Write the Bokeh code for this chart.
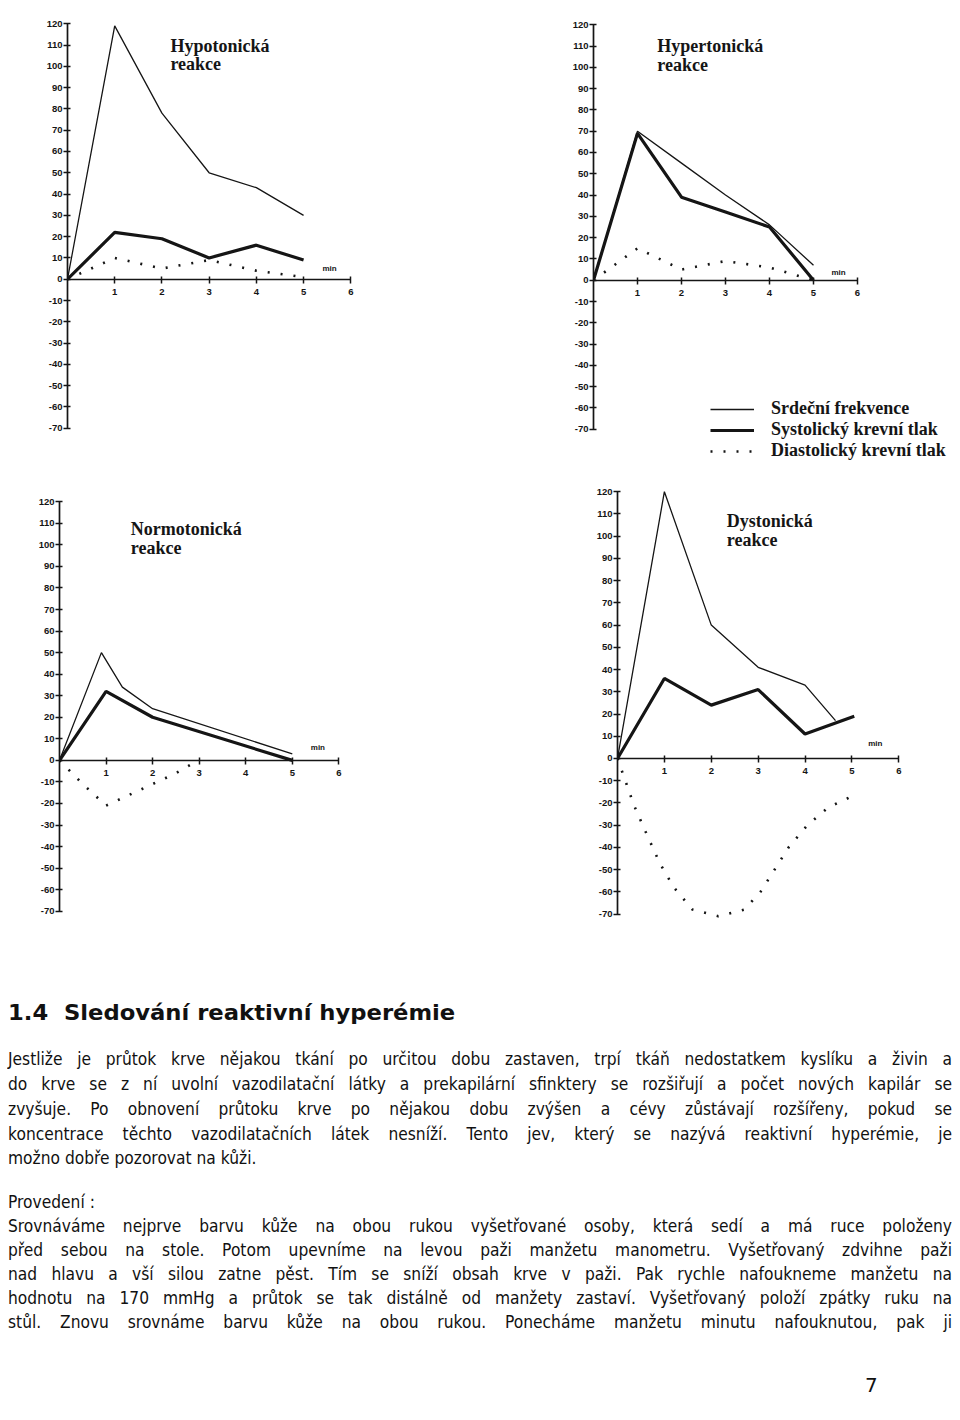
from bokeh.plotting import figure
from bokeh.layouts import row, column
from bokeh.models import FixedTicker, Label, Legend, LegendItem, Div
from bokeh.embed import file_html
from bokeh.resources import INLINE

# ---------------- data (read from the scanned page) ----------------
x_ticks = [1, 2, 3, 4, 5, 6]
y_ticks = list(range(-70, 121, 10))

# Hypotonická reakce
hypo_hr_x = [0, 1, 2, 3, 4, 5]
hypo_hr_y = [0, 119, 78, 50, 43, 30]
hypo_sys_x = [0, 1, 2, 3, 4, 5]
hypo_sys_y = [0, 22, 19, 10, 16, 9]
hypo_dia_x = [0, 1, 2, 3, 4, 5]
hypo_dia_y = [0, 10, 5, 9, 4, 1]

# Hypertonická reakce
hyper_hr_x = [0, 1, 2, 3, 4, 5]
hyper_hr_y = [0, 70, 55, 40, 26, 7]
hyper_sys_x = [0, 1, 2, 3, 4, 5]
hyper_sys_y = [0, 69, 39, 32, 25, 0]
hyper_dia_x = [0, 1, 2, 3, 4, 5]
hyper_dia_y = [0, 15, 5, 9, 6, 0]

# Normotonická reakce
normo_hr_x = [0, 0.9, 1.35, 2, 5]
normo_hr_y = [0, 50, 34, 24, 3]
normo_sys_x = [0, 1, 2, 5]
normo_sys_y = [0, 32, 20, 0]
normo_dia_x = [0, 0.5, 1, 1.5, 2, 2.5, 2.9]
normo_dia_y = [0, -11, -21, -16, -11, -6, -1]

# Dystonická reakce
dys_hr_x = [0, 1, 2, 3, 4, 4.65]
dys_hr_y = [0, 120, 60, 41, 33, 17]
dys_sys_x = [0, 1, 2, 3, 4, 5.05]
dys_sys_y = [0, 36, 24, 31, 11, 19]
dys_dia_x = [0, 0.35, 0.6, 0.9, 1.2, 1.6, 2.15, 2.7, 3.05, 3.35, 3.65, 4.05, 4.5, 5]
dys_dia_y = [0, -21, -33, -47, -58, -68, -71, -68, -60, -50, -40, -30, -22, -17]

legend_labels = ["Srdeční frekvence", "Systolický krevní tlak", "Diastolický krevní tlak"]

heading = "1.4&nbsp; Sledování reaktivní hyperémie"
intro_lines = [
    "Jestliže je průtok krve nějakou tkání po určitou dobu zastaven, trpí tkáň nedostatkem kyslíku a živin a",
    "do krve se z ní uvolní vazodilatační látky a prekapilární sfinktery se rozšiřují a počet nových kapilár se",
    "zvyšuje. Po obnovení průtoku krve po nějakou dobu zvýšen a cévy zůstávají rozšířeny, pokud se",
    "koncentrace těchto vazodilatačních látek nesníží. Tento jev, který se nazývá reaktivní hyperémie, je",
    "možno dobře pozorovat na kůži.",
]
proc_title = "Provedení :"
proc_lines = [
    "Srovnáváme nejprve barvu kůže na obou rukou vyšetřované osoby, která sedí a má ruce položeny",
    "před sebou na stole. Potom upevníme na levou paži manžetu manometru. Vyšetřovaný zdvihne paži",
    "nad hlavu a vší silou zatne pěst. Tím se sníží obsah krve v paži. Pak rychle nafoukneme manžetu na",
    "hodnotu na 170 mmHg a průtok se tak distálně od manžety zastaví. Vyšetřovaný položí zpátky ruku na",
    "stůl. Znovu srovnáme barvu kůže na obou rukou. Ponecháme manžetu minutu nafouknutou, pak ji",
]
page_number = "7"

# ---------------- styling helpers ----------------
INK = "#151515"
SERIF = "Liberation Serif"
SANS = "Liberation Sans"


def make_chart(width, height, left, right, top, bottom, x_end, y_start=-72, y_end=122):
    p = figure(width=width, height=height, x_range=(0, x_end), y_range=(y_start, y_end),
               output_backend="svg", toolbar_location=None,
               min_border_left=left, min_border_right=right,
               min_border_top=top, min_border_bottom=bottom)
    p.frame_align = False
    p.outline_line_color = None
    p.grid.visible = False
    p.background_fill_color = "white"
    p.border_fill_color = "white"
    xa = p.xaxis[0]
    ya = p.yaxis[0]
    xa.fixed_location = 0
    xa.bounds = (0, 6)
    xa.ticker = FixedTicker(ticks=x_ticks)
    ya.bounds = (-70, 120)
    ya.ticker = FixedTicker(ticks=y_ticks)
    ya.major_label_overrides = {t: str(t) for t in y_ticks}
    for ax in (xa, ya):
        ax.axis_line_color = INK
        ax.axis_line_width = 1.7
        ax.major_tick_line_color = INK
        ax.major_tick_line_width = 1.5
        ax.major_tick_in = 3
        ax.major_tick_out = 4
        ax.minor_tick_line_color = None
        ax.major_label_text_font = SANS
        ax.major_label_text_font_style = "bold"
        ax.major_label_text_font_size = "9.5px"
        ax.major_label_text_color = INK
    xa.major_label_standoff = 6
    ya.major_label_standoff = 1
    return p


def draw_series(p, hx, hy, sx, sy, dx, dy):
    r_hr = p.line(hx, hy, line_width=1.3, line_color=INK)
    r_sys = p.line(sx, sy, line_width=3.2, line_color=INK)
    r_dia = p.line(dx, dy, line_width=2.6, line_color=INK, line_dash="2 11")
    return r_hr, r_sys, r_dia


def add_title(p, x, y1, y2, word):
    for yy, t in ((y1, word), (y2, "reakce")):
        p.add_layout(Label(x=x, y=yy, text=t, text_font=SERIF, text_font_style="bold",
                           text_font_size="18px", text_baseline="middle", text_color=INK))


def add_min(p, x, y):
    p.add_layout(Label(x=x, y=y, text="min", text_font=SANS, text_font_style="bold",
                       text_font_size="8px", text_baseline="middle", text_align="center",
                       text_color=INK))


ROW1_H = 486
ROW2_H = 474

# ---------------- charts ----------------
# frame: y 122 at 19 px, y -72 at 432 px
p1 = make_chart(553, ROW1_H, 67, 198, 19, ROW1_H - 432, 6.1)
draw_series(p1, hypo_hr_x, hypo_hr_y, hypo_sys_x, hypo_sys_y, hypo_dia_x, hypo_dia_y)
add_title(p1, 2.18, 109.5, 101, "Hypotonická")
add_min(p1, 5.55, 5)

# frame extended below -70 (to 462 px) so that the legend sits inside it
p2_scale = 413 / 194.0
p2_ystart = 122 - (462 - 20) / p2_scale
p2 = make_chart(407, ROW1_H, 40, 5, 20, ROW1_H - 462, 362 / 44.0, y_start=p2_ystart)
r_hr, r_sys, r_dia = draw_series(p2, hyper_hr_x, hyper_hr_y, hyper_sys_x, hyper_sys_y,
                                 hyper_dia_x, hyper_dia_y)
add_title(p2, 1.45, 110, 101, "Hypertonická")
add_min(p2, 5.57, 3.6)
legend = Legend(items=[LegendItem(label=legend_labels[0], renderers=[r_hr]),
                       LegendItem(label=legend_labels[1], renderers=[r_sys]),
                       LegendItem(label=legend_labels[2], renderers=[r_dia])],
                location=(117, 1), glyph_width=44, glyph_height=18, label_height=18,
                spacing=0, padding=0, margin=0, label_standoff=17,
                background_fill_alpha=0, border_line_color=None,
                label_text_font=SERIF, label_text_font_style="bold",
                label_text_font_size="18px", label_text_color=INK)
p2.add_layout(legend)

# row 2 starts at 486 px; p3 frame 497..915, p4 frame 489..918
p3 = make_chart(577, ROW2_H, 59, 234, 11, ROW2_H - 11 - 418, 6.1)
draw_series(p3, normo_hr_x, normo_hr_y, normo_sys_x, normo_sys_y, normo_dia_x, normo_dia_y)
add_title(p3, 1.53, 107.3, 98.5, "Normotonická")
add_min(p3, 5.55, 5.9)

p4 = make_chart(383, ROW2_H, 40, 57, 3, ROW2_H - 3 - 429, 6.1, y_end=121)
draw_series(p4, dys_hr_x, dys_hr_y, dys_sys_x, dys_sys_y, dys_dia_x, dys_dia_y)
add_title(p4, 2.33, 106.8, 98.2, "Dystonická")
add_min(p4, 5.5, 6.9)

# ---------------- text block ----------------
SCALE = 0.86
LINE_W = 944


def line_div(top, text, justify=True, size=18, weight="normal"):
    just = "text-align:justify;text-align-last:justify;" if justify else "text-align:left;"
    return (f'<div style="position:absolute;left:8px;top:{top}px;width:{LINE_W / SCALE:.1f}px;'
            f'transform:scaleX({SCALE});transform-origin:0 0;'
            f'font-size:{size}px;line-height:20px;white-space:nowrap;font-weight:{weight};{just}">'
            f'{text}</div>')


parts = []
parts.append(f'<div style="position:absolute;left:8px;top:41px;font-size:21px;line-height:24px;'
             f'transform:scaleX(1.08);transform-origin:0 0;'
             f'font-weight:bold;white-space:nowrap;">{heading}</div>')
intro_centers = [99, 124, 149, 174, 198]
for i, (c, t) in enumerate(zip(intro_centers, intro_lines)):
    parts.append(line_div(c - 10, t, justify=(i < len(intro_lines) - 1)))
parts.append(line_div(242 - 10, proc_title, justify=False))
proc_centers = [266, 290, 314, 338, 362]
for c, t in zip(proc_centers, proc_lines):
    parts.append(line_div(c - 10, t, justify=True))
parts.append(f'<div style="position:absolute;left:865px;top:413px;font-size:20px;line-height:24px;">'
             f'{page_number}</div>')

html = ('<div style="position:relative;width:960px;height:460px;'
        'font-family:\'DejaVu Sans\',sans-serif;color:#111;">' + "".join(parts) + '</div>')
text_block = Div(text=html, width=960, height=460, margin=0)

layout = column(row(p1, p2, spacing=0), row(p3, p4, spacing=0), text_block, spacing=0)

open("out.html", "w").write(file_html(layout, INLINE))
